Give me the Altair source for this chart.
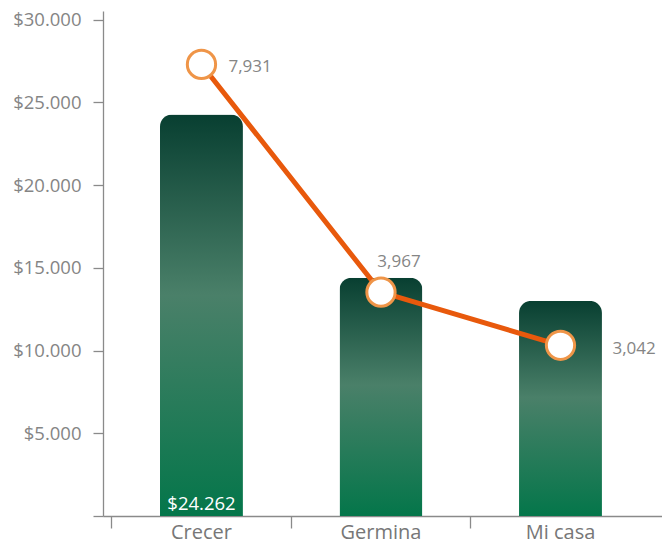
import altair as alt
import pandas as pd

categories = ["Crecer", "Germina", "Mi casa"]
amounts = [24262, 14400, 13000]
amount_labels = ["$24.262", "", ""]
counts = [7931, 3967, 3042]
count_labels = ["7,931", "3,967", "3,042"]
y_ticks = [0, 5000, 10000, 15000, 20000, 25000, 30000]

df = pd.DataFrame({
    "cat": categories,
    "amount": amounts,
    "alabel": amount_labels,
    "count": counts,
    "clabel": count_labels,
})

FONT = "Open Sans"
AXIS_GRAY = "#8a8a8a"
TEXT_GRAY = "#858585"

xscale = alt.Scale(domain=categories, paddingInner=0.538, paddingOuter=0.326,
                   align=0.487, round=False)
yscale = alt.Scale(domain=[0, 30520], nice=False, zero=True)
y2scale = alt.Scale(domain=[71, 8861], nice=False, zero=False)

label_axis = alt.Axis(title=None, ticks=False, domain=False, labelFont=FONT,
                      labelFontSize=20, labelColor="#777777", labelPadding=6,
                      labelAngle=0, orient="bottom")
tick_axis = alt.Axis(title=None, labels=False, ticks=True, domain=True,
                     orient="bottom",
                     domainColor=AXIS_GRAY, tickColor=AXIS_GRAY, tickSize=12,
                     domainWidth=1.3, tickWidth=1.3, bandPosition=-0.582)
y_axis = alt.Axis(title=None, values=y_ticks, grid=False,
                  labelExpr='datum.value == 0 ? "" : "$" + replace(format(datum.value, ","), ",", ".")',
                  labelFont=FONT, labelFontSize=18.5, labelColor=TEXT_GRAY,
                  labelPadding=12, tickSize=10, tickColor=AXIS_GRAY,
                  domainColor=AXIS_GRAY, domainWidth=1.3, tickWidth=1.3)

gradient = alt.Gradient(
    gradient="linear", x1=0, y1=0, x2=0, y2=1,
    stops=[
        alt.GradientStop(offset=0, color="#083f31"),
        alt.GradientStop(offset=0.45, color="#4a8069"),
        alt.GradientStop(offset=1, color="#04764a"),
    ],
)

bars = alt.Chart(df).mark_bar(
    cornerRadiusTopLeft=12, cornerRadiusTopRight=12, color=gradient
).encode(
    x=alt.X("cat:N", scale=xscale, sort=categories, axis=label_axis),
    y=alt.Y("amount:Q", scale=yscale, axis=y_axis),
)

bar_text = alt.Chart(df).mark_text(
    color="white", font=FONT, fontSize=18.5, baseline="alphabetic", dy=-6
).encode(
    x=alt.X("cat:N", scale=xscale, sort=categories, axis=label_axis),
    y=alt.datum(0, scale=yscale),
    text="alabel:N",
)

left = alt.layer(bars, bar_text)

line = alt.Chart(df).mark_line(color="#e8590c", strokeWidth=5)
points = alt.Chart(df).mark_point(
    shape="circle", fill="white", fillOpacity=1, stroke="#ef9548",
    strokeWidth=3, strokeOpacity=1, size=800
)

def label(cat, dx, dy, align):
    return alt.Chart(df).transform_filter(alt.datum.cat == cat).mark_text(
        font=FONT, fontSize=17, color=TEXT_GRAY, dx=dx, dy=dy, align=align,
        baseline="middle"
    ).encode(text="clabel:N")

right = alt.layer(
    line, points,
    label("Crecer", 27, 3, "left"),
    label("Germina", 18, -30, "center"),
    label("Mi casa", 52, 4, "left"),
).encode(
    x=alt.X("cat:N", scale=xscale, sort=categories, axis=tick_axis),
    y=alt.Y("count:Q", scale=y2scale, axis=None),
)

chart = alt.layer(left, right).resolve_scale(y="independent").resolve_axis(
    x="independent"
).properties(
    width=559, height=505,
    padding={"left": 95, "top": 3, "right": 0, "bottom": 29},
    autosize=alt.AutoSizeParams(type="none"),
).configure_view(stroke=None)

chart.save("out.html", embed_options={"renderer": "svg", "actions": False})
